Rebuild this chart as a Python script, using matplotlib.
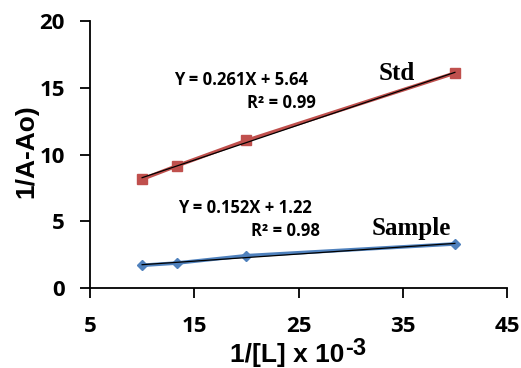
import matplotlib
matplotlib.use("Agg")
import matplotlib.pyplot as plt
import numpy as np

# data
conc_inv = [10, 13.33, 20, 40]
std_vals = [8.15, 9.15, 11.05, 16.1]
sample_vals = [1.70, 1.87, 2.42, 3.30]
x_ticks = [5, 15, 25, 35, 45]
y_ticks = [0, 5, 10, 15, 20]
std_eq = "Y = 0.261X + 5.64"
std_r2 = "R\u00b2 = 0.99"
smp_eq = "Y = 0.152X + 1.22"
smp_r2 = "R\u00b2 = 0.98"

plt.rcParams["font.family"] = ["Open Sans", "DejaVu Sans"]
plt.rcParams["font.weight"] = "bold"

W, H = 521, 368
fig = plt.figure(figsize=(W / 100, H / 100), dpi=100)
ax = fig.add_axes([90 / W, 1 - 288 / H, (507 - 90) / W, (288 - 21) / H])

red = "#C0504D"
blue = "#4F81BD"

ax.plot(conc_inv, std_vals, color=red, lw=2.6, marker="s", ms=7.5, zorder=3)
ax.plot(conc_inv, sample_vals, color=blue, lw=2.6, marker="D", ms=5.5, zorder=3)

xs = np.array([conc_inv[0], conc_inv[-1]])
for vals in (std_vals, sample_vals):
    m, b = np.polyfit(conc_inv, vals, 1)
    ax.plot(xs, m * xs + b, color="black", lw=0.9, zorder=4)

ax.set_xlim(5, 45)
ax.set_ylim(0, 20)
ax.set_xticks(x_ticks)
ax.set_yticks(y_ticks)
for s in ("top", "right"):
    ax.spines[s].set_visible(False)
for s in ("left", "bottom"):
    ax.spines[s].set_linewidth(1.3)
ax.tick_params(direction="out", length=7, width=1.3, labelsize=16)
ax.tick_params(axis="x", pad=13)
ax.tick_params(axis="y", pad=11)
for lab in ax.get_xticklabels() + ax.get_yticklabels():
    lab.set_fontweight("bold")

def px(x, y):
    return (x / W, 1 - y / H)

eqfont = dict(family="Open Sans", weight="bold", fontsize=12)
fig.text(*px(241, 80), std_eq, ha="center", va="center", **eqfont)
fig.text(*px(316, 103), std_r2, ha="right", va="center", **eqfont)
fig.text(*px(245, 208), smp_eq, ha="center", va="center", **eqfont)
fig.text(*px(320, 231), smp_r2, ha="right", va="center", **eqfont)

serif = dict(family="Liberation Serif", weight="bold", fontsize=18)
fig.text(*px(397, 73), "Std", ha="center", va="center", **serif)
fig.text(*px(411, 228), "Sample", ha="center", va="center", **serif)

lab = dict(family="Liberation Sans", weight="bold", fontsize=19)
fig.text(*px(26, 151), "1/A-Ao)", rotation=90, ha="center", va="center", **lab)
main = fig.text(*px(230, 362), "1/[L] x 10", ha="left", va="baseline", **lab)
fig.canvas.draw()
bb = main.get_window_extent()
fig.text((bb.x1 + 1) / W, (bb.y0 + 12) / H, "-3", ha="left", va="baseline",
         family="Liberation Sans", weight="bold", fontsize=17)

fig.savefig("out.png", dpi=100)
